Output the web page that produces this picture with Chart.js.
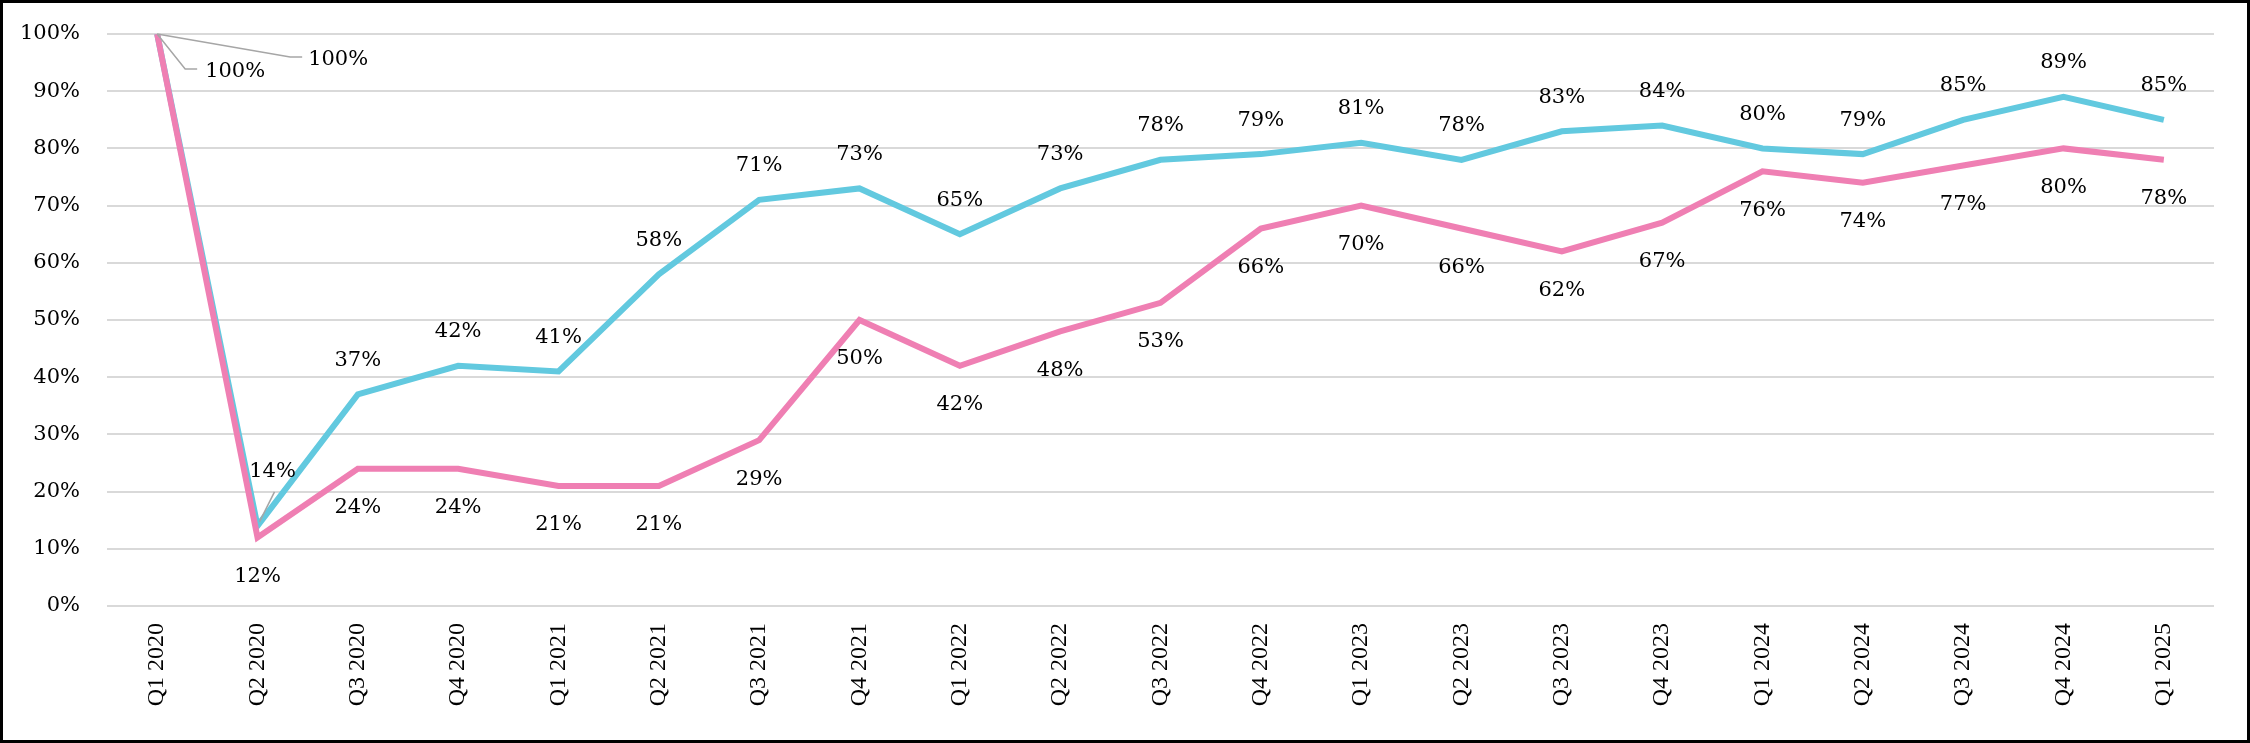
<!DOCTYPE html>
<html>
<head>
<meta charset="utf-8">
<script src="https://cdn.jsdelivr.net/npm/chart.js@4.4.1/dist/chart.umd.min.js"></script>
<style>
    html, body { margin: 0; padding: 0; background: #fff; }
    #frame {
        width: 2250px;
        height: 743px;
        box-sizing: border-box;
        border: 3px solid #000;
        background: #fff;
    }
    canvas { display: block; }
</style>
</head>
<body>
<div id="frame"><canvas id="trendChart" width="2244" height="737"></canvas></div>
<script>
const quarters = [
    'Q1 2020', 'Q2 2020', 'Q3 2020', 'Q4 2020',
    'Q1 2021', 'Q2 2021', 'Q3 2021', 'Q4 2021',
    'Q1 2022', 'Q2 2022', 'Q3 2022', 'Q4 2022',
    'Q1 2023', 'Q2 2023', 'Q3 2023', 'Q4 2023',
    'Q1 2024', 'Q2 2024', 'Q3 2024', 'Q4 2024',
    'Q1 2025'
];
const blueValues = [100, 14, 37, 42, 41, 58, 71, 73, 65, 73, 78, 79, 81, 78, 83, 84, 80, 79, 85, 89, 85];
const pinkValues = [100, 12, 24, 24, 21, 21, 29, 50, 42, 48, 53, 66, 70, 66, 62, 67, 76, 74, 77, 80, 78];
const yTicks = [0, 10, 20, 30, 40, 50, 60, 70, 80, 90, 100];

const labelFont = '21px "DejaVu Serif"';

// 値ラベル (Excel風) を描くプラグイン
const valueLabels = {
    id: 'valueLabels',
    afterDatasetsDraw(chart) {
        const ctx = chart.ctx;
        ctx.save();
        ctx.font = labelFont;
        ctx.fillStyle = '#000';
        ctx.textAlign = 'center';
        ctx.textBaseline = 'middle';
        chart.data.datasets.forEach((ds, di) => {
            const meta = chart.getDatasetMeta(di);
            const isBlue = ds.key === 'blue';
            meta.data.forEach((pt, i) => {
                let dx = 0;
                let dy = isBlue ? -34 : 39;
                let leader = null;
                if (i === 0 && isBlue) {
                    dx = 181; dy = 26;
                    leader = [[0, 0], [133, 23], [145, 23]];
                } else if (i === 0) {
                    dx = 78; dy = 38;
                    leader = [[0, 0], [28, 35], [40, 35]];
                } else if (i === 1 && isBlue) {
                    dx = 15; dy = -54;
                    leader = [[2, -4], [17, -34]];
                }
                if (leader) {
                    ctx.beginPath();
                    ctx.strokeStyle = '#a6a6a6';
                    ctx.lineWidth = 1.5;
                    leader.forEach((p, k) => {
                        if (k === 0) ctx.moveTo(pt.x + p[0], pt.y + p[1]);
                        else ctx.lineTo(pt.x + p[0], pt.y + p[1]);
                    });
                    ctx.stroke();
                }
                ctx.fillText(ds.data[i] + '%', pt.x + dx, pt.y + dy);
            });
        });
        ctx.restore();
    }
};

const ctx = document.getElementById('trendChart').getContext('2d');
new Chart(ctx, {
    type: 'line',
    data: {
        labels: quarters,
        datasets: [
            {
                key: 'pink',
                data: pinkValues,
                borderColor: '#ef7fb3',
                borderWidth: 6,
                pointRadius: 0,
                tension: 0,
                order: 0,
            },
            {
                key: 'blue',
                data: blueValues,
                borderColor: '#62c9df',
                borderWidth: 6,
                pointRadius: 0,
                tension: 0,
                order: 1,
            }
        ]
    },
    options: {
        responsive: false,
        devicePixelRatio: 1,
        animation: false,
        layout: {
            padding: { top: 31, right: 33, left: 0, bottom: 0 }
        },
        scales: {
            x: {
                offset: true,
                grid: { display: false, drawTicks: false },
                border: { display: false },
                afterFit(scale) {
                    scale.height = 134;
                    scale.paddingLeft = 0;
                    scale.paddingRight = 0;
                },
                ticks: {
                    color: '#000',
                    font: { family: 'Liberation Serif', size: 24 },
                    minRotation: 90,
                    maxRotation: 90,
                    padding: 17,
                    autoSkip: false,
                }
            },
            y: {
                min: 0,
                max: 100,
                afterFit(scale) {
                    scale.width = 104;
                    scale.paddingTop = 0;
                    scale.paddingBottom = 0;
                },
                afterBuildTicks(scale) {
                    scale.ticks = yTicks.map(v => ({ value: v }));
                },
                grid: {
                    color: '#d9d9d9',
                    lineWidth: 2,
                    drawTicks: false,
                },
                border: { display: false },
                ticks: {
                    color: '#000',
                    font: { family: 'DejaVu Serif', size: 21 },
                    padding: 27,
                    callback: v => v + '%',
                }
            }
        },
        plugins: {
            legend: { display: false },
            tooltip: { enabled: false },
        }
    },
    plugins: [valueLabels]
});
</script>
</body>
</html>
